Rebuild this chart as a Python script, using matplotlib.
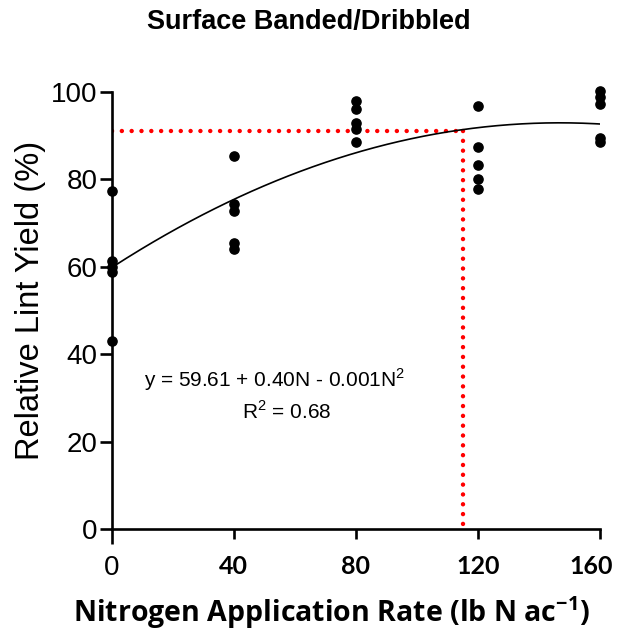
import numpy as np
import matplotlib.pyplot as plt
from matplotlib.transforms import ScaledTranslation

plt.rcParams['font.family'] = ['Liberation Sans', 'DejaVu Sans']
plt.rcParams['mathtext.fontset'] = 'custom'
plt.rcParams['mathtext.rm'] = 'Liberation Sans'
plt.rcParams['mathtext.bf'] = 'Open Sans:bold'

# Relative lint yield (%) for each nitrogen rate (lb N/ac)
n_rates = [0, 40, 80, 120, 160]
yield_0 = [77.2, 61.2, 60.0, 58.8, 43.1]
yield_40 = [85.3, 74.2, 72.7, 65.5, 64.0]
yield_80 = [97.9, 96.0, 92.9, 91.4, 88.5]
yield_120 = [96.7, 87.4, 83.3, 80.0, 77.7]
yield_160 = [100.2, 98.7, 97.1, 89.3, 88.5]

# Rate where the fitted curve reaches the critical yield
critical_n = 115
critical_yield = 91

equation_text = "y = 59.61 + 0.40N - 0.001N$^2$"
r2_text = "R$^2$ = 0.68"

x_ticks = [0, 40, 80, 120, 160]
y_ticks = [0, 20, 40, 60, 80, 100]

all_yields = [yield_0, yield_40, yield_80, yield_120, yield_160]
x_pts = np.repeat(n_rates, [len(v) for v in all_yields])
y_pts = np.concatenate(all_yields)

# Quadratic response curve
coef = np.polyfit(x_pts, y_pts, 2)
n_fit = np.linspace(0, 160, 200)
y_fit = np.polyval(coef, n_fit)

fig = plt.figure(figsize=(6.18, 6.33), dpi=100)
ax = fig.add_axes([0.1807, 0.1643, 0.9709 - 0.1807, 0.8552 - 0.1643])

# critical value guide lines
dot_style = dict(color='#ff0000', lw=3.2, linestyle=(0, (0.01, 2.2)),
                 dash_capstyle='round', zorder=2)
ax.plot([0, critical_n], [critical_yield, critical_yield], **dot_style)
ax.plot([critical_n, critical_n], [critical_yield, 0], **dot_style)

ax.plot(n_fit, y_fit, color='black', lw=1.2, zorder=3)
ax.scatter(x_pts, y_pts, s=44, color='black', zorder=4, clip_on=False)

ax.set_xlim(0, 160)
ax.set_ylim(0, 100)
ax.set_xticks(x_ticks)
ax.set_yticks(y_ticks)

for side in ['top', 'right']:
    ax.spines[side].set_visible(False)
for side in ['left', 'bottom']:
    ax.spines[side].set_linewidth(1.9)

ax.tick_params(axis='y', length=9, width=1.9, pad=1, labelsize=20)
ax.tick_params(axis='x', length=7, width=1.9, pad=12, labelsize=18)
ax.xaxis.get_major_ticks()[0].tick1line.set_markersize(11)

labels = ax.get_xticklabels()
for i, lbl in enumerate(labels):
    if i == 0:
        lbl.set_family('Liberation Sans')
        lbl.set_fontsize(20)
    else:
        lbl.set_family('Lato')
        lbl.set_fontweight('bold')
# pull the last label in from the edge
labels[-1].set_transform(labels[-1].get_transform()
                         + ScaledTranslation(-0.09, 0, fig.dpi_scale_trans))

ax.text(53.5, 34.2, equation_text, fontsize=15, ha='center', va='center')
ax.text(57.4, 26.8, r2_text, fontsize=15, ha='center', va='center')

fig.text(0.5, 0.965, 'Surface Banded/Dribbled', fontsize=19.5, fontweight='bold',
         ha='center', va='center')
fig.text(0.05, 0.525, 'Relative Lint Yield (%)', fontsize=23.5, rotation=90,
         ha='center', va='center')
fig.text(0.537, 0.033, r'Nitrogen Application Rate (lb N ac$^{\mathbf{-1}}$)',
         fontsize=20.5, fontweight='bold', family='Open Sans', ha='center', va='center')

plt.savefig('out.png', dpi=100)
